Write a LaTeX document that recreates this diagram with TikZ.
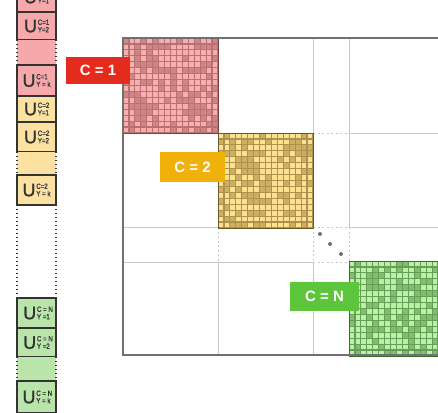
\documentclass[tikz,border=0pt]{standalone}
\usepackage{fontspec}
\setmainfont{Liberation Sans}
\setsansfont{Liberation Sans}
\newfontfamily\ulfont{Liberation Sans}[FakeBold=1.2]
\newfontfamily\usubfont{Liberation Sans}[FakeBold=0.8, FakeStretch=0.82]
\usetikzlibrary{positioning}

\definecolor{redL}{HTML}{F8AEAE}
\definecolor{redM}{HTML}{CD8585}
\definecolor{redG}{HTML}{B97070}
\definecolor{redB}{HTML}{7A4545}
\definecolor{redS}{HTML}{F6A9AB}
\definecolor{redT}{HTML}{E52A1E}
\definecolor{yelL}{HTML}{FDE18F}
\definecolor{yelM}{HTML}{CDAF62}
\definecolor{yelG}{HTML}{AD9150}
\definecolor{yelB}{HTML}{6B5A25}
\definecolor{yelS}{HTML}{FCE2A2}
\definecolor{yelT}{HTML}{EFB10A}
\definecolor{grnL}{HTML}{B9F1A6}
\definecolor{grnM}{HTML}{82BE6E}
\definecolor{grnG}{HTML}{679E57}
\definecolor{grnB}{HTML}{3E6B35}
\definecolor{grnS}{HTML}{B9E5AA}
\definecolor{grnT}{HTML}{5DC53C}
\definecolor{cellline}{HTML}{333333}
\definecolor{gridgray}{HTML}{C8C8C8}
\definecolor{framegray}{HTML}{707070}

\newcommand\ulabel[2]{{\ulfont\fontsize{18}{18}\selectfont U}\kern0.8pt{\usubfont\fontsize{7.5}{7.5}\selectfont\rlap{\raisebox{7.4pt}{#1}}#2}}

\begin{document}
\begin{tikzpicture}[
  x=1pt, y=-1pt, font=\sffamily,
  ucell/.style={
    draw=cellline, line width=1.4pt, minimum width=39pt,
    inner sep=0pt, text=cellline
  },
  dotcell/.style={minimum width=39pt, inner sep=0pt},
  dotside/.style={draw=cellline, line width=1.6pt, dash pattern=on 1.6pt off 2.4pt},
  clbl/.style={text=white, font=\fontsize{15}{15}\selectfont\bfseries, inner sep=0pt},
  grid/.style={draw=gridgray, line width=0.9pt},
  gridgap/.style={grid, dash pattern=on 2pt off 2.5pt},
  frame/.style={draw=framegray, line width=1.5pt},
]
\useasboundingbox (0,0) rectangle (438,412);
\clip (0,0) rectangle (438,412);

%% --- Column of U cells ----------------------------------------------
\node[ucell, fill=redS, minimum height=30pt] (c1y1) at (36.5, -3)  {\ulabel{C=1}{Y=1}};
\node[ucell, fill=redS, minimum height=28pt] (c1y2) at (36.5, 26)  {\ulabel{C=1}{Y=2}};
\node[dotcell, fill=redS, minimum height=25pt] (c1dots) at (36.5, 52.5) {};
\node[ucell, fill=redS, minimum height=31pt] (c1yk) at (36.5, 80.5) {\ulabel{C=1}{Y = k}};

\node[ucell, fill=yelS, minimum height=26pt] (c2y1) at (36.5, 109) {\ulabel{C=2}{Y=1}};
\node[ucell, fill=yelS, minimum height=30pt] (c2y2) at (36.5, 137) {\ulabel{C=2}{Y=2}};
\node[dotcell, fill=yelS, minimum height=23pt] (c2dots) at (36.5, 163.5) {};
\node[ucell, fill=yelS, minimum height=30pt] (c2yk) at (36.5, 190) {\ulabel{C=2}{Y = k}};

\node[dotcell, minimum height=93pt] (gapdots) at (36.5, 251.5) {};

\node[ucell, fill=grnS, minimum height=30pt] (cNy1) at (36.5, 313) {\ulabel{C = N}{Y =1}};
\node[ucell, fill=grnS, minimum height=29pt] (cNy2) at (36.5, 342.5) {\ulabel{C = N}{Y =2}};
\node[dotcell, fill=grnS, minimum height=24pt] (cNdots) at (36.5, 369) {};
\node[ucell, fill=grnS, minimum height=32pt] (cNyk) at (36.5, 397) {\ulabel{C = N}{Y = k}};

\foreach \d in {c1dots, c2dots, gapdots, cNdots} {
  \draw[dotside] (\d.north west) -- (\d.south west);
  \draw[dotside] (\d.north east) -- (\d.south east);
}

%% --- Grid of the matrix ---------------------------------------------
\draw[grid] (218,38) -- (218,227)  (218,262) -- (218,355);
\draw[grid] (313,38) -- (313,227)  (313,262) -- (313,355);
\draw[grid] (349,38) -- (349,227);
\draw[grid] (123,133) -- (313,133)  (349,133) -- (438,133);
\draw[grid] (123,227) -- (313,227)  (349,227) -- (438,227);
\draw[grid] (123,262) -- (313,262);
\draw[gridgap] (218,227) -- (218,262)  (313,227) -- (313,262)  (349,227) -- (349,262);
\draw[gridgap] (313,133) -- (349,133)  (313,227) -- (349,227)  (313,262) -- (349,262);

\fill[framegray] (320,234) circle (2pt) (330,244) circle (2pt) (341,254) circle (2pt);

%% --- Blocks on the diagonal -----------------------------------------
\pgfmathsetseed{7}
\foreach \bx/\by/\cl/\cm/\cg/\cb in {123/38/redL/redM/redG/redB,
    218/133/yelL/yelM/yelG/yelB, 349/261/grnL/grnM/grnG/grnB} {
  \fill[\cg] (\bx,\by) rectangle ++(95,95);
  \foreach \i in {0,...,15} \foreach \j in {0,...,15} {
    \pgfmathtruncatemacro\lit{rnd<0.62}
    \ifnum\lit=1 \def\cc{\cl}\else\def\cc{\cm}\fi
    \fill[\cc] ({\bx+\i*5.9375+0.6},{\by+\j*5.9375+0.6}) rectangle ++(4.74,4.74);
  }
  \draw[\cb, line width=0.9pt] (\bx,\by) rectangle ++(95,95);
}

%% --- Frame ----------------------------------------------------------
\draw[frame] (440,38) -- (123,38) -- (123,355) -- (440,355);

%% --- Cluster labels -------------------------------------------------
\node[clbl, fill=redT, minimum width=64pt, minimum height=27pt] (lbl1) at (98,70.5) {C = 1};
\node[clbl, fill=yelT, minimum width=65pt, minimum height=30pt] (lbl2) at (192.5,167) {C = 2};
\node[clbl, fill=grnT, minimum width=69pt, minimum height=29pt] (lblN) at (324.5,296.5) {C = N};

\end{tikzpicture}
\end{document}
